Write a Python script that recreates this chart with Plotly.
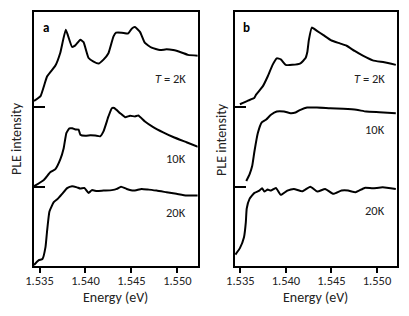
import plotly.graph_objects as go

# ---------------- data (energy in eV, intensity relative to each curve's baseline) ----------------
a_2k_E = [1.53440, 1.53511, 1.53583, 1.53673, 1.53727, 1.53786, 1.53854, 1.53890, 1.53944, 1.53979,
          1.54034, 1.54088, 1.54142, 1.54196, 1.54250, 1.54304, 1.54333, 1.54395, 1.54466, 1.54503,
          1.54539, 1.54593, 1.54647, 1.54720, 1.54810, 1.54882, 1.54954, 1.55044, 1.55116, 1.55224]
a_2k_I = [0.08, 0.14, 0.39, 0.525, 0.69, 0.975, 0.76, 0.78, 0.85, 0.82,
          0.62, 0.575, 0.55, 0.60, 0.68, 0.89, 0.94, 0.94, 0.93, 0.99,
          1.01, 0.95, 0.81, 0.75, 0.72, 0.73, 0.72, 0.69, 0.66, 0.65]

a_10k_E = [1.53440, 1.53547, 1.53619, 1.53673, 1.53727, 1.53763, 1.53792, 1.53825, 1.53857, 1.53890,
           1.53925, 1.53944, 1.53998, 1.54052, 1.54106, 1.54160, 1.54196, 1.54250, 1.54287, 1.54312,
           1.54377, 1.54431, 1.54485, 1.54539, 1.54575, 1.54647, 1.54737, 1.54845, 1.54954, 1.55099,
           1.55224]
a_10k_I = [0.005, 0.084, 0.184, 0.221, 0.346, 0.484, 0.675, 0.734, 0.734, 0.721,
           0.718, 0.655, 0.64, 0.646, 0.643, 0.634, 0.696, 0.884, 0.988, 0.99,
           0.925, 0.875, 0.893, 0.884, 0.896, 0.821, 0.75, 0.684, 0.625, 0.559,
           0.503]

a_20k_E = [1.53440, 1.53492, 1.53532, 1.53565, 1.53581, 1.53608, 1.53655, 1.53698, 1.53746, 1.53800,
           1.53854, 1.53908, 1.53944, 1.53987, 1.54034, 1.54070, 1.54124, 1.54196, 1.54287, 1.54341,
           1.54387, 1.54449, 1.54521, 1.54611, 1.54683, 1.54774, 1.54882, 1.54990, 1.55099, 1.55224]
a_20k_I = [0.0125, 0.075, 0.0875, 0.2375, 0.425, 0.6875, 0.804, 0.846, 0.909, 0.981,
           1.006, 0.991, 0.975, 0.984, 0.919, 0.956, 0.944, 0.95, 0.956, 0.971,
           1.0, 0.971, 0.95, 0.971, 0.9625, 0.95, 0.929, 0.909, 0.8875, 0.8875]

b_2k_E = [1.53495, 1.53583, 1.53652, 1.53673, 1.53746, 1.53800, 1.53854, 1.53900, 1.53944, 1.53998,
          1.54070, 1.54160, 1.54214, 1.54236, 1.54252, 1.54285, 1.54341, 1.54412, 1.54501, 1.54593,
          1.54666, 1.54755, 1.54845, 1.54954, 1.55080, 1.55207]
b_2k_I = [0.0375, 0.084, 0.116, 0.159, 0.2625, 0.3875, 0.534, 0.616, 0.604, 0.534,
          0.534, 0.554, 0.616, 0.70, 0.846, 1.004, 0.9625, 0.909, 0.841, 0.804,
          0.775, 0.709, 0.65, 0.591, 0.566, 0.534]

b_10k_E = [1.53565, 1.53601, 1.53630, 1.53655, 1.53692, 1.53735, 1.53781, 1.53836, 1.53900, 1.53979,
           1.54052, 1.54106, 1.54160, 1.54233, 1.54341, 1.54485, 1.54629, 1.54774, 1.54882, 1.55026,
           1.55207]
b_10k_I = [0.071, 0.155, 0.259, 0.446, 0.675, 0.809, 0.8425, 0.905, 0.946, 0.946,
           0.925, 0.934, 0.9675, 0.996, 0.996, 0.9875, 0.98, 0.9675, 0.946, 0.9375,
           0.925]

b_20k_E = [1.53446, 1.53495, 1.53540, 1.53560, 1.53570, 1.53601, 1.53655, 1.53709, 1.53738, 1.53763,
           1.53800, 1.53836, 1.53890, 1.53944, 1.54016, 1.54088, 1.54179, 1.54268, 1.54347, 1.54431,
           1.54521, 1.54611, 1.54683, 1.54766, 1.54864, 1.54954, 1.55062, 1.55207]
b_20k_I = [0.144, 0.225, 0.3625, 0.55, 0.725, 0.846, 0.921, 0.95, 0.981, 0.9375,
           0.9625, 0.95, 0.984, 0.896, 0.95, 0.971, 0.941, 1.0, 0.9375, 0.971,
           0.909, 0.95, 0.95, 0.929, 0.984, 0.979, 0.991, 0.971]

offsets = {"2K": 2.0, "10K": 1.0, "20K": 0.0}
x_tickvals = [1.535, 1.540, 1.545, 1.550]
x_ticktext = ["1.535", "1.540", "1.545", "1.550"]
x_range = [1.5344, 1.5522]
y_range = [0.0, 3.2]

FONT = "Carlito, Lato, sans-serif"

fig = go.Figure()

panels = [
    ("x", "y", [(a_2k_E, a_2k_I, "2K"), (a_10k_E, a_10k_I, "10K"), (a_20k_E, a_20k_I, "20K")]),
    ("x2", "y2", [(b_2k_E, b_2k_I, "2K"), (b_10k_E, b_10k_I, "10K"), (b_20k_E, b_20k_I, "20K")]),
]
for xa, ya, curves in panels:
    for E, I, lab in curves:
        fig.add_trace(go.Scatter(
            x=E, y=[v + offsets[lab] for v in I], xaxis=xa, yaxis=ya,
            mode="lines", line=dict(color="black", width=2, shape="spline", smoothing=0.4),
            showlegend=False, hoverinfo="skip"))

axis_common = dict(showline=True, mirror=True, linewidth=2, linecolor="black",
                   showgrid=False, zeroline=False)
xcommon = dict(axis_common, range=x_range, tickvals=x_tickvals, ticktext=x_ticktext,
               ticks="outside", ticklen=5, tickwidth=1.5, tickcolor="black",
               ticklabelstandoff=-3,
               tickfont=dict(family=FONT, size=12.5, color="#222"))
ycommon = dict(axis_common, range=y_range, tickvals=[1, 2], ticks="inside", ticklen=11,
               tickwidth=2, tickcolor="black", showticklabels=False)

fig.update_layout(
    width=409, height=316,
    margin=dict(l=34, r=10, t=10, b=50),
    paper_bgcolor="white", plot_bgcolor="white",
    xaxis=dict(xcommon, domain=[0, 0.4507], anchor="y"),
    yaxis=dict(ycommon, domain=[0, 1], anchor="x"),
    xaxis2=dict(xcommon, domain=[0.5534, 1], anchor="y2"),
    yaxis2=dict(ycommon, domain=[0, 1], anchor="x2"),
)

tf = dict(family=FONT, size=12.5, color="#222")
ann = []
for xr, yr in (("x", "y"), ("x2", "y2")):
    ann.append(dict(x=1.55113, y=2.36, xref=xr, yref=yr, text="<i>T</i> = 2K",
                    showarrow=False, xanchor="right", yanchor="middle", font=tf))
ann.append(dict(x=1.55113, y=1.35, xref="x", yref="y", text="10K", showarrow=False,
                xanchor="right", yanchor="middle", font=tf))
ann.append(dict(x=1.55113, y=0.68, xref="x", yref="y", text="20K", showarrow=False,
                xanchor="right", yanchor="middle", font=tf))
ann.append(dict(x=1.55113, y=1.72, xref="x2", yref="y2", text="10K", showarrow=False,
                xanchor="right", yanchor="middle", font=tf))
ann.append(dict(x=1.55113, y=0.70, xref="x2", yref="y2", text="20K", showarrow=False,
                xanchor="right", yanchor="middle", font=tf))
# panel letters
ann.append(dict(x=1.5357, y=3.0, xref="x", yref="y", text="<b>a</b>", showarrow=False,
                xanchor="center", yanchor="middle", font=dict(family=FONT, size=13, color="black")))
ann.append(dict(x=1.5357, y=3.0, xref="x2", yref="y2", text="<b>b</b>", showarrow=False,
                xanchor="center", yanchor="middle", font=dict(family=FONT, size=13, color="black")))
# axis titles
af = dict(family=FONT, size=14, color="#222")
for xc in (-0.0493, 0.515):
    ann.append(dict(x=xc, y=0.5, xref="paper", yref="paper", text="PLE intensity",
                    textangle=-90, showarrow=False, xanchor="center", yanchor="middle", font=af))
for xc in (0.2254, 0.7767):
    ann.append(dict(x=xc, y=-0.125, xref="paper", yref="paper", text="Energy (eV)",
                    showarrow=False, xanchor="center", yanchor="middle", font=af))
fig.update_layout(annotations=ann)

fig.write_html("out.html", config={"displayModeBar": False},
               post_script="document.body.style.margin='0';document.body.style.padding='0';")
